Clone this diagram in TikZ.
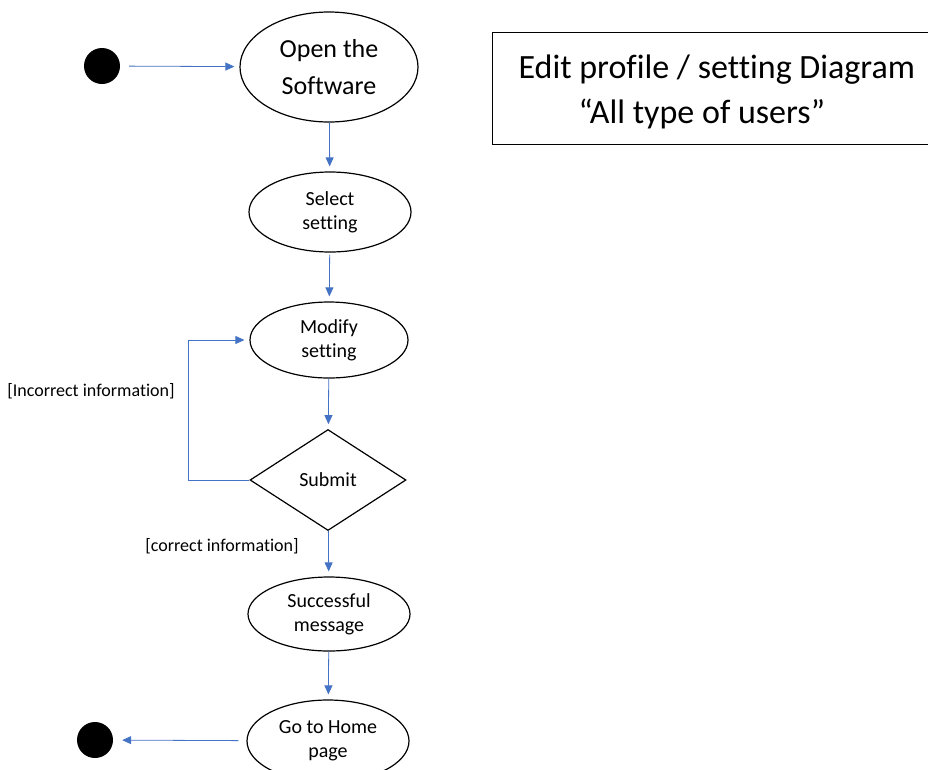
\documentclass[tikz,border=0pt]{standalone}
\usepackage{fontspec}
\setmainfont{Carlito}[Ligatures=NoCommon]
\usetikzlibrary{shapes, arrows.meta}
\definecolor{flowblue}{HTML}{4472C4}

\begin{document}
\begin{tikzpicture}[x=1pt, y=-1pt,
	state/.style={ellipse, draw, line width=1.2pt, inner sep=0pt, align=center, font=\fontsize{20}{24}\selectfont},
	choice/.style={diamond, draw, line width=1.2pt, inner sep=0pt, font=\fontsize{20}{24}\selectfont},
	dot/.style={circle, fill=black, minimum size=36pt, inner sep=0pt},
	flow/.style={draw=flowblue, line width=0.8pt, -{Triangle[width=8pt, length=9pt]}, shorten >=5pt},
	guard/.style={font=\fontsize{18}{22}\selectfont}]
	\useasboundingbox (0,0) rectangle (928,769);
	\node[dot] (start) at (102,66) {};
	\node[state, minimum width=178pt, minimum height=110pt, font=\fontsize{26}{37}\selectfont] (open) at (329,67) {Open the\\Software};
	\node[state, minimum width=162pt, minimum height=80pt] (select) at (330,212) {Select\\setting};
	\node[state, minimum width=158pt, minimum height=76pt] (modify) at (329,340) {Modify\\setting};
	\node[choice, minimum width=156pt, minimum height=101pt] (submit) at (328,480) {Submit};
	\node[state, minimum width=162pt, minimum height=74pt] (success) at (329,614) {Successful\\message};
	\node[state, minimum width=162pt, minimum height=82pt] (home) at (328,741) {Go to Home\\page};
	\node[dot] (end) at (95,740) {};
	\node[guard] (wrong) at (91,391) {[Incorrect information]};
	\node[guard] (right) at (222,546) {[correct information]};
	\draw (928,32) -- (492,32) -- (492,144) -- (928,144);
	\node[align=left, anchor=west, font=\fontsize{34}{45}\selectfont] (title) at (515,92) {Edit profile / setting Diagram\\\hspace*{60pt}“All type of users”};
	\draw[flow, shorten <=9pt] (start) -- (open);
	\draw[flow] (open) -- (select);
	\draw[flow, shorten <=2pt] (select) -- (modify);
	\draw[flow] (modify) -- (submit);
	\draw[flow] (submit.west) -- ++(-61,0) |- (modify.west);
	\draw[flow] (submit) -- (success);
	\draw[flow] (success) -- (home);
	\draw[flow, shorten <=8pt, shorten >=9pt] (home) -- (end);
\end{tikzpicture}
\end{document}
